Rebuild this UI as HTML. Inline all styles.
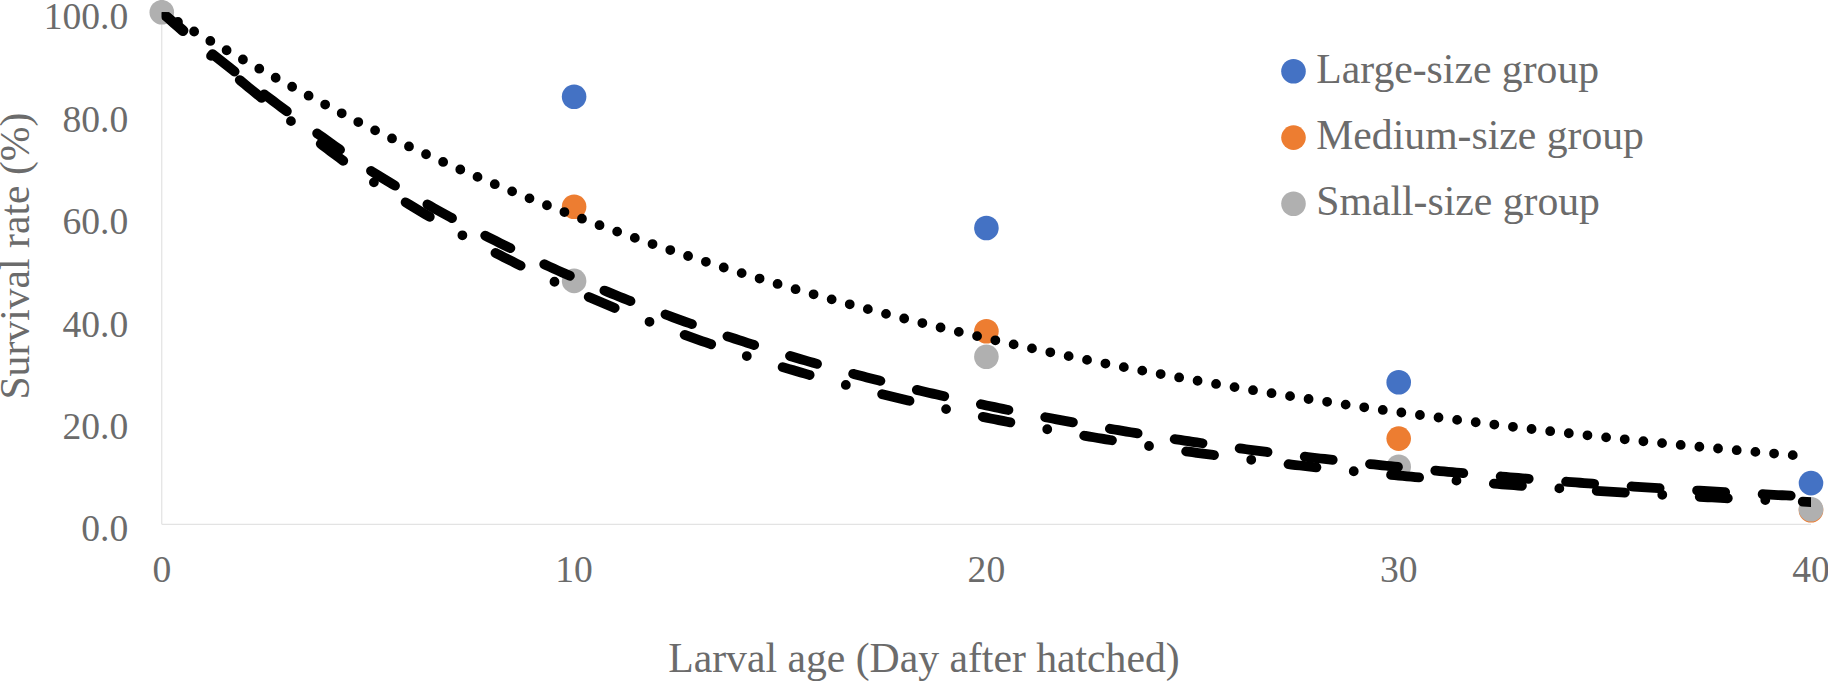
<!DOCTYPE html>
<html><head><meta charset="utf-8"><title>Survival rate chart</title>
<style>
html,body{margin:0;padding:0;background:#fff}
svg{display:block}
text{font-family:"Liberation Serif","Times New Roman",serif;fill:#6b6b6b}
.t1{font-size:41.7px}
.t2{font-size:37.6px}
</style></head><body>
<svg width="1828" height="681" viewBox="0 0 1828 681">
<rect width="1828" height="681" fill="#fff"/>
<defs><clipPath id="cp"><rect x="161.8" y="12.2" width="1649.2" height="600"/></clipPath></defs>

<path d="M161.8 12.5 V524.3 H1811.0" fill="none" stroke="#dcdcdc" stroke-width="1"/>
<text class="t2" x="128.3" y="541.2" text-anchor="end">0.0</text>
<text class="t2" x="128.3" y="438.8" text-anchor="end">20.0</text>
<text class="t2" x="128.3" y="336.5" text-anchor="end">40.0</text>
<text class="t2" x="128.3" y="234.1" text-anchor="end">60.0</text>
<text class="t2" x="128.3" y="131.8" text-anchor="end">80.0</text>
<text class="t2" x="128.3" y="29.4" text-anchor="end">100.0</text>
<text class="t2" x="161.8" y="581.6" text-anchor="middle">0</text>
<text class="t2" x="574.1" y="581.6" text-anchor="middle">10</text>
<text class="t2" x="986.4" y="581.6" text-anchor="middle">20</text>
<text class="t2" x="1398.7" y="581.6" text-anchor="middle">30</text>
<text class="t2" x="1811.0" y="581.6" text-anchor="middle">40</text>
<text class="t1" x="668.2" y="672">Larval age (Day after hatched)</text>
<text class="t1" transform="translate(29.1 399.6) rotate(-90)">Survival rate (%)</text>
<circle cx="574.1" cy="96.7" r="12.3" fill="#4472c4"/>
<circle cx="986.4" cy="228.0" r="12.3" fill="#4472c4"/>
<circle cx="1398.7" cy="382.3" r="12.3" fill="#4472c4"/>
<circle cx="1811.0" cy="483.1" r="12.3" fill="#4472c4"/>
<circle cx="574.1" cy="206.7" r="12.3" fill="#ed7d31"/>
<circle cx="986.4" cy="331.3" r="12.3" fill="#ed7d31"/>
<circle cx="1398.7" cy="438.6" r="12.3" fill="#ed7d31"/>
<circle cx="1811.0" cy="510.2" r="12.3" fill="#ed7d31"/>
<circle cx="161.8" cy="12.2" r="12.3" fill="#b0b0b0"/>
<circle cx="574.1" cy="280.9" r="12.3" fill="#b0b0b0"/>
<circle cx="986.4" cy="356.7" r="12.3" fill="#b0b0b0"/>
<circle cx="1398.7" cy="466.7" r="12.3" fill="#b0b0b0"/>
<circle cx="1811.0" cy="509.2" r="12.3" fill="#b0b0b0"/>
<g clip-path="url(#cp)" fill="none" stroke="#000" stroke-width="9.80" stroke-linecap="round" stroke-linejoin="round">
<path d="M161.80 12.50 L165.92 14.88 L170.05 17.32 L174.17 19.76 L178.29 22.20 L182.42 24.63 L186.54 27.06 L190.66 29.48 L194.78 31.89 L198.91 34.30 L203.03 36.69 L207.15 39.09 L211.28 41.47 L215.40 43.84 L219.52 46.21 L223.65 48.57 L227.77 50.92 L231.89 53.27 L236.01 55.61 L240.14 57.94 L244.26 60.26 L248.38 62.58 L252.51 64.89 L256.63 67.19 L260.75 69.49 L264.88 71.78 L269.00 74.07 L273.12 76.34 L277.24 78.61 L281.37 80.88 L285.49 83.13 L289.61 85.39 L293.74 87.63 L297.86 89.87 L301.98 92.10 L306.11 94.33 L310.23 96.55 L314.35 98.76 L318.47 100.97 L322.60 103.17 L326.72 105.37 L330.84 107.56 L334.97 109.74 L339.09 111.92 L343.21 114.10 L347.34 116.27 L351.46 118.45 L355.58 120.63 L359.70 122.86 L363.83 124.89 L367.95 126.90 L372.07 128.91 L376.20 130.91 L380.32 132.89 L384.44 134.87 L388.57 136.83 L392.69 138.79 L396.81 140.73 L400.93 142.67 L405.06 144.60 L409.18 146.51 L413.30 148.42 L417.43 150.32 L421.55 152.20 L425.67 154.08 L429.80 155.95 L433.92 157.81 L438.04 159.66 L442.16 161.50 L446.29 163.33 L450.41 165.15 L454.53 166.96 L458.66 168.77 L462.78 170.56 L466.90 172.35 L471.03 174.12 L475.15 175.89 L479.27 177.65 L483.39 179.40 L487.52 181.14 L491.64 182.87 L495.76 184.60 L499.89 186.31 L504.01 188.02 L508.13 189.71 L512.26 191.40 L516.38 193.08 L520.50 194.75 L524.62 196.42 L528.75 198.07 L532.87 199.72 L536.99 201.36 L541.12 202.99 L545.24 204.61 L549.36 206.22 L553.49 207.83 L557.61 209.43 L561.73 211.01 L565.85 212.60 L569.98 214.17 L574.10 215.73 L578.22 217.29 L582.35 218.84 L586.47 220.38 L590.59 221.92 L594.72 223.44 L598.84 224.96 L602.96 226.47 L607.08 227.98 L611.21 229.47 L615.33 230.96 L619.45 232.44 L623.58 233.91 L627.70 235.38 L631.82 236.84 L635.95 238.29 L640.07 239.73 L644.19 241.17 L648.31 242.60 L652.44 244.02 L656.56 245.43 L660.68 246.84 L664.81 248.24 L668.93 249.63 L673.05 251.02 L677.17 252.40 L681.30 253.77 L685.42 255.14 L689.54 256.50 L693.67 257.85 L697.79 259.19 L701.91 260.53 L706.04 261.86 L710.16 263.19 L714.28 264.50 L718.40 265.82 L722.53 267.12 L726.65 268.42 L730.77 269.71 L734.90 271.00 L739.02 272.27 L743.14 273.55 L747.27 274.81 L751.39 276.07 L755.51 277.32 L759.63 278.57 L763.76 279.81 L767.88 281.04 L772.00 282.27 L776.13 283.49 L780.25 284.71 L784.37 285.92 L788.50 287.12 L792.62 288.32 L796.74 289.51 L800.87 290.69 L804.99 291.87 L809.11 293.05 L813.23 294.21 L817.36 295.38 L821.48 296.53 L825.60 297.68 L829.73 298.82 L833.85 299.96 L837.97 301.09 L842.10 302.22 L846.22 303.34 L850.34 304.46 L854.46 305.57 L858.59 306.67 L862.71 307.77 L866.83 308.86 L870.96 309.95 L875.08 311.03 L879.20 312.11 L883.33 313.18 L887.45 314.24 L891.57 315.30 L895.69 316.36 L899.82 317.41 L903.94 318.45 L908.06 319.49 L912.19 320.53 L916.31 321.55 L920.43 322.58 L924.56 323.60 L928.68 324.61 L932.80 325.62 L936.92 326.62 L941.05 327.62 L945.17 328.61 L949.29 329.60 L953.42 330.58 L957.54 331.56 L961.66 332.53 L965.79 333.50 L969.91 334.46 L974.03 335.42 L978.15 336.37 L982.28 337.32 L986.40 338.27 L990.52 339.20 L994.65 340.14 L998.77 341.07 L1002.89 341.99 L1007.02 342.91 L1011.14 343.83 L1015.26 344.74 L1019.38 345.65 L1023.51 346.55 L1027.63 347.44 L1031.75 348.34 L1035.88 349.23 L1040.00 350.11 L1044.12 350.99 L1048.25 351.86 L1052.37 352.73 L1056.49 353.60 L1060.61 354.46 L1064.74 355.32 L1068.86 356.17 L1072.98 357.02 L1077.11 357.86 L1081.23 358.70 L1085.35 359.54 L1089.48 360.37 L1093.60 361.20 L1097.72 362.02 L1101.84 362.84 L1105.97 363.66 L1110.09 364.47 L1114.21 365.27 L1118.34 366.08 L1122.46 366.87 L1126.58 367.67 L1130.71 368.46 L1134.83 369.25 L1138.95 370.03 L1143.07 370.81 L1147.20 371.58 L1151.32 372.35 L1155.44 373.12 L1159.57 373.88 L1163.69 374.64 L1167.81 375.40 L1171.94 376.15 L1176.06 376.90 L1180.18 377.64 L1184.30 378.38 L1188.43 379.12 L1192.55 379.85 L1196.67 380.58 L1200.80 381.30 L1204.92 382.03 L1209.04 382.74 L1213.16 383.46 L1217.29 384.17 L1221.41 384.88 L1225.53 385.58 L1229.66 386.28 L1233.78 386.98 L1237.90 387.67 L1242.03 388.36 L1246.15 389.05 L1250.27 389.73 L1254.39 390.41 L1258.52 391.08 L1262.64 391.76 L1266.76 392.43 L1270.89 393.09 L1275.01 393.75 L1279.13 394.41 L1283.26 395.07 L1287.38 395.72 L1291.50 396.37 L1295.62 397.01 L1299.75 397.66 L1303.87 398.30 L1307.99 398.93 L1312.12 399.56 L1316.24 400.19 L1320.36 400.82 L1324.49 401.44 L1328.61 402.06 L1332.73 402.68 L1336.86 403.29 L1340.98 403.91 L1345.10 404.51 L1349.22 405.12 L1353.35 405.72 L1357.47 406.32 L1361.59 406.91 L1365.72 407.51 L1369.84 408.10 L1373.96 408.68 L1378.09 409.27 L1382.21 409.85 L1386.33 410.42 L1390.45 411.00 L1394.58 411.57 L1398.70 412.14 L1402.82 412.71 L1406.95 413.27 L1411.07 413.83 L1415.19 414.39 L1419.32 414.94 L1423.44 415.49 L1427.56 416.04 L1431.68 416.59 L1435.81 417.13 L1439.93 417.67 L1444.05 418.21 L1448.18 418.75 L1452.30 419.28 L1456.42 419.81 L1460.55 420.34 L1464.67 420.86 L1468.79 421.38 L1472.91 421.90 L1477.04 422.42 L1481.16 422.93 L1485.28 423.45 L1489.41 423.96 L1493.53 424.46 L1497.65 424.97 L1501.78 425.47 L1505.90 425.97 L1510.02 426.46 L1514.14 426.96 L1518.27 427.45 L1522.39 427.94 L1526.51 428.42 L1530.64 428.91 L1534.76 429.39 L1538.88 429.87 L1543.01 430.34 L1547.13 430.82 L1551.25 431.29 L1555.37 431.76 L1559.50 432.23 L1563.62 432.69 L1567.74 433.15 L1571.87 433.61 L1575.99 434.07 L1580.11 434.53 L1584.24 434.98 L1588.36 435.43 L1592.48 435.88 L1596.60 436.32 L1600.73 436.77 L1604.85 437.21 L1608.97 437.65 L1613.10 438.09 L1617.22 438.52 L1621.34 438.96 L1625.47 439.39 L1629.59 439.82 L1633.71 440.24 L1637.83 440.67 L1641.96 441.09 L1646.08 441.51 L1650.20 441.93 L1654.33 442.34 L1658.45 442.76 L1662.57 443.17 L1666.70 443.58 L1670.82 443.98 L1674.94 444.39 L1679.06 444.79 L1683.19 445.19 L1687.31 445.59 L1691.43 445.99 L1695.56 446.39 L1699.68 446.78 L1703.80 447.17 L1707.93 447.56 L1712.05 447.95 L1716.17 448.33 L1720.29 448.72 L1724.42 449.10 L1728.54 449.48 L1732.66 449.85 L1736.79 450.23 L1740.91 450.60 L1745.03 450.98 L1749.16 451.35 L1753.28 451.71 L1757.40 452.08 L1761.52 452.44 L1765.65 452.81 L1769.77 453.17 L1773.89 453.53 L1778.02 453.88 L1782.14 454.24 L1786.26 454.59 L1790.39 454.95 L1794.51 455.30 L1798.63 455.64 L1802.75 455.99 L1806.88 456.33 L1811.00 456.68" stroke-dasharray="0 18.75"/>
<path d="M161.80 12.50 L165.92 15.83 L170.05 19.25 L174.17 22.69 L178.29 26.11 L182.42 29.53 L186.54 32.94 L190.66 36.33 L194.78 39.71 L198.91 43.07 L203.03 46.41 L207.15 49.74 L211.28 53.06 L215.40 56.36 L219.52 59.64 L223.65 62.91 L227.77 66.16 L231.89 69.40 L236.01 72.63 L240.14 75.84 L244.26 79.03 L248.38 82.21 L252.51 85.38 L256.63 88.54 L260.75 91.68 L264.88 94.81 L269.00 97.93 L273.12 101.03 L277.24 104.12 L281.37 107.20 L285.49 110.27 L289.61 113.32 L293.74 116.36 L297.86 119.39 L301.98 122.41 L306.11 125.42 L310.23 128.41 L314.35 131.39 L318.47 134.37 L322.60 137.33 L326.72 140.28 L330.84 143.22 L334.97 146.15 L339.09 149.07 L343.21 151.99 L347.34 154.90 L351.46 157.82 L355.58 160.75 L359.70 163.78 L363.83 166.41 L367.95 169.01 L372.07 171.59 L376.20 174.16 L380.32 176.71 L384.44 179.23 L388.57 181.74 L392.69 184.24 L396.81 186.71 L400.93 189.16 L405.06 191.60 L409.18 194.02 L413.30 196.42 L417.43 198.81 L421.55 201.18 L425.67 203.53 L429.80 205.86 L433.92 208.18 L438.04 210.48 L442.16 212.76 L446.29 215.02 L450.41 217.27 L454.53 219.51 L458.66 221.72 L462.78 223.92 L466.90 226.11 L471.03 228.28 L475.15 230.43 L479.27 232.57 L483.39 234.69 L487.52 236.80 L491.64 238.89 L495.76 240.96 L499.89 243.02 L504.01 245.07 L508.13 247.10 L512.26 249.12 L516.38 251.12 L520.50 253.11 L524.62 255.08 L528.75 257.04 L532.87 258.98 L536.99 260.91 L541.12 262.83 L545.24 264.73 L549.36 266.62 L553.49 268.49 L557.61 270.35 L561.73 272.20 L565.85 274.03 L569.98 275.85 L574.10 277.66 L578.22 279.45 L582.35 281.23 L586.47 283.00 L590.59 284.76 L594.72 286.50 L598.84 288.23 L602.96 289.95 L607.08 291.65 L611.21 293.34 L615.33 295.02 L619.45 296.69 L623.58 298.35 L627.70 299.99 L631.82 301.62 L635.95 303.24 L640.07 304.85 L644.19 306.44 L648.31 308.03 L652.44 309.60 L656.56 311.16 L660.68 312.71 L664.81 314.25 L668.93 315.78 L673.05 317.30 L677.17 318.80 L681.30 320.30 L685.42 321.78 L689.54 323.25 L693.67 324.72 L697.79 326.17 L701.91 327.61 L706.04 329.04 L710.16 330.46 L714.28 331.87 L718.40 333.27 L722.53 334.66 L726.65 336.04 L730.77 337.41 L734.90 338.77 L739.02 340.12 L743.14 341.46 L747.27 342.79 L751.39 344.11 L755.51 345.42 L759.63 346.72 L763.76 348.01 L767.88 349.29 L772.00 350.56 L776.13 351.83 L780.25 353.08 L784.37 354.33 L788.50 355.56 L792.62 356.79 L796.74 358.01 L800.87 359.22 L804.99 360.42 L809.11 361.61 L813.23 362.80 L817.36 363.97 L821.48 365.14 L825.60 366.29 L829.73 367.44 L833.85 368.58 L837.97 369.72 L842.10 370.84 L846.22 371.96 L850.34 373.07 L854.46 374.17 L858.59 375.26 L862.71 376.34 L866.83 377.42 L870.96 378.49 L875.08 379.55 L879.20 380.60 L883.33 381.64 L887.45 382.68 L891.57 383.71 L895.69 384.73 L899.82 385.75 L903.94 386.76 L908.06 387.76 L912.19 388.75 L916.31 389.74 L920.43 390.72 L924.56 391.69 L928.68 392.65 L932.80 393.61 L936.92 394.56 L941.05 395.50 L945.17 396.44 L949.29 397.37 L953.42 398.29 L957.54 399.21 L961.66 400.12 L965.79 401.02 L969.91 401.92 L974.03 402.81 L978.15 403.69 L982.28 404.57 L986.40 405.44 L990.52 406.31 L994.65 407.16 L998.77 408.02 L1002.89 408.86 L1007.02 409.70 L1011.14 410.54 L1015.26 411.36 L1019.38 412.18 L1023.51 413.00 L1027.63 413.81 L1031.75 414.61 L1035.88 415.41 L1040.00 416.20 L1044.12 416.99 L1048.25 417.77 L1052.37 418.54 L1056.49 419.31 L1060.61 420.08 L1064.74 420.83 L1068.86 421.59 L1072.98 422.33 L1077.11 423.08 L1081.23 423.81 L1085.35 424.54 L1089.48 425.27 L1093.60 425.99 L1097.72 426.70 L1101.84 427.41 L1105.97 428.12 L1110.09 428.82 L1114.21 429.51 L1118.34 430.20 L1122.46 430.89 L1126.58 431.57 L1130.71 432.24 L1134.83 432.91 L1138.95 433.57 L1143.07 434.23 L1147.20 434.89 L1151.32 435.54 L1155.44 436.19 L1159.57 436.83 L1163.69 437.46 L1167.81 438.09 L1171.94 438.72 L1176.06 439.34 L1180.18 439.96 L1184.30 440.58 L1188.43 441.18 L1192.55 441.79 L1196.67 442.39 L1200.80 442.98 L1204.92 443.58 L1209.04 444.16 L1213.16 444.75 L1217.29 445.32 L1221.41 445.90 L1225.53 446.47 L1229.66 447.04 L1233.78 447.60 L1237.90 448.16 L1242.03 448.71 L1246.15 449.26 L1250.27 449.80 L1254.39 450.35 L1258.52 450.88 L1262.64 451.42 L1266.76 451.95 L1270.89 452.47 L1275.01 453.00 L1279.13 453.52 L1283.26 454.03 L1287.38 454.54 L1291.50 455.05 L1295.62 455.55 L1299.75 456.05 L1303.87 456.55 L1307.99 457.04 L1312.12 457.53 L1316.24 458.02 L1320.36 458.50 L1324.49 458.98 L1328.61 459.45 L1332.73 459.92 L1336.86 460.39 L1340.98 460.86 L1345.10 461.32 L1349.22 461.78 L1353.35 462.23 L1357.47 462.68 L1361.59 463.13 L1365.72 463.58 L1369.84 464.02 L1373.96 464.46 L1378.09 464.89 L1382.21 465.32 L1386.33 465.75 L1390.45 466.18 L1394.58 466.60 L1398.70 467.02 L1402.82 467.44 L1406.95 467.85 L1411.07 468.26 L1415.19 468.67 L1419.32 469.07 L1423.44 469.48 L1427.56 469.87 L1431.68 470.27 L1435.81 470.66 L1439.93 471.05 L1444.05 471.44 L1448.18 471.83 L1452.30 472.21 L1456.42 472.59 L1460.55 472.96 L1464.67 473.34 L1468.79 473.71 L1472.91 474.07 L1477.04 474.44 L1481.16 474.80 L1485.28 475.16 L1489.41 475.52 L1493.53 475.87 L1497.65 476.23 L1501.78 476.58 L1505.90 476.92 L1510.02 477.27 L1514.14 477.61 L1518.27 477.95 L1522.39 478.29 L1526.51 478.62 L1530.64 478.95 L1534.76 479.28 L1538.88 479.61 L1543.01 479.94 L1547.13 480.26 L1551.25 480.58 L1555.37 480.90 L1559.50 481.21 L1563.62 481.53 L1567.74 481.84 L1571.87 482.15 L1575.99 482.45 L1580.11 482.76 L1584.24 483.06 L1588.36 483.36 L1592.48 483.66 L1596.60 483.95 L1600.73 484.25 L1604.85 484.54 L1608.97 484.83 L1613.10 485.11 L1617.22 485.40 L1621.34 485.68 L1625.47 485.96 L1629.59 486.24 L1633.71 486.52 L1637.83 486.79 L1641.96 487.07 L1646.08 487.34 L1650.20 487.61 L1654.33 487.87 L1658.45 488.14 L1662.57 488.40 L1666.70 488.66 L1670.82 488.92 L1674.94 489.18 L1679.06 489.43 L1683.19 489.69 L1687.31 489.94 L1691.43 490.19 L1695.56 490.44 L1699.68 490.68 L1703.80 490.93 L1707.93 491.17 L1712.05 491.41 L1716.17 491.65 L1720.29 491.89 L1724.42 492.12 L1728.54 492.36 L1732.66 492.59 L1736.79 492.82 L1740.91 493.05 L1745.03 493.28 L1749.16 493.50 L1753.28 493.73 L1757.40 493.95 L1761.52 494.17 L1765.65 494.39 L1769.77 494.61 L1773.89 494.82 L1778.02 495.04 L1782.14 495.25 L1786.26 495.46 L1790.39 495.67 L1794.51 495.88 L1798.63 496.09 L1802.75 496.29 L1806.88 496.49 L1811.00 496.70" stroke-dasharray="28.13 37.51"/>
<path d="M161.80 12.50 L165.92 16.10 L170.05 19.80 L174.17 23.50 L178.29 27.19 L182.42 30.86 L186.54 34.52 L190.66 38.17 L194.78 41.79 L198.91 45.39 L203.03 48.98 L207.15 52.54 L211.28 56.09 L215.40 59.61 L219.52 63.12 L223.65 66.61 L227.77 70.08 L231.89 73.53 L236.01 76.97 L240.14 80.38 L244.26 83.78 L248.38 87.17 L252.51 90.53 L256.63 93.88 L260.75 97.21 L264.88 100.53 L269.00 103.83 L273.12 107.11 L277.24 110.38 L281.37 113.64 L285.49 116.87 L289.61 120.10 L293.74 123.30 L297.86 126.50 L301.98 129.67 L306.11 132.84 L310.23 135.99 L314.35 139.12 L318.47 142.24 L322.60 145.35 L326.72 148.44 L330.84 151.53 L334.97 154.60 L339.09 157.65 L343.21 160.70 L347.34 163.75 L351.46 166.79 L355.58 169.85 L359.70 173.01 L363.83 175.75 L367.95 178.47 L372.07 181.18 L376.20 183.85 L380.32 186.51 L384.44 189.15 L388.57 191.77 L392.69 194.37 L396.81 196.94 L400.93 199.50 L405.06 202.04 L409.18 204.55 L413.30 207.05 L417.43 209.53 L421.55 211.98 L425.67 214.42 L429.80 216.84 L433.92 219.24 L438.04 221.63 L442.16 223.99 L446.29 226.34 L450.41 228.66 L454.53 230.97 L458.66 233.26 L462.78 235.53 L466.90 237.79 L471.03 240.03 L475.15 242.25 L479.27 244.45 L483.39 246.64 L487.52 248.80 L491.64 250.96 L495.76 253.09 L499.89 255.21 L504.01 257.31 L508.13 259.39 L512.26 261.46 L516.38 263.52 L520.50 265.55 L524.62 267.57 L528.75 269.58 L532.87 271.57 L536.99 273.54 L541.12 275.50 L545.24 277.44 L549.36 279.37 L553.49 281.28 L557.61 283.18 L561.73 285.06 L565.85 286.93 L569.98 288.79 L574.10 290.62 L578.22 292.45 L582.35 294.26 L586.47 296.06 L590.59 297.84 L594.72 299.61 L598.84 301.36 L602.96 303.10 L607.08 304.83 L611.21 306.54 L615.33 308.24 L619.45 309.93 L623.58 311.61 L627.70 313.27 L631.82 314.92 L635.95 316.55 L640.07 318.17 L644.19 319.78 L648.31 321.38 L652.44 322.96 L656.56 324.54 L660.68 326.10 L664.81 327.64 L668.93 329.18 L673.05 330.70 L677.17 332.22 L681.30 333.72 L685.42 335.20 L689.54 336.68 L693.67 338.15 L697.79 339.60 L701.91 341.04 L706.04 342.47 L710.16 343.89 L714.28 345.30 L718.40 346.70 L722.53 348.09 L726.65 349.46 L730.77 350.83 L734.90 352.18 L739.02 353.53 L743.14 354.86 L747.27 356.18 L751.39 357.50 L755.51 358.80 L759.63 360.09 L763.76 361.37 L767.88 362.65 L772.00 363.91 L776.13 365.16 L780.25 366.40 L784.37 367.64 L788.50 368.86 L792.62 370.07 L796.74 371.28 L800.87 372.47 L804.99 373.66 L809.11 374.84 L813.23 376.00 L817.36 377.16 L821.48 378.31 L825.60 379.45 L829.73 380.58 L833.85 381.70 L837.97 382.82 L842.10 383.92 L846.22 385.02 L850.34 386.11 L854.46 387.19 L858.59 388.26 L862.71 389.32 L866.83 390.37 L870.96 391.42 L875.08 392.46 L879.20 393.49 L883.33 394.51 L887.45 395.52 L891.57 396.53 L895.69 397.52 L899.82 398.52 L903.94 399.50 L908.06 400.47 L912.19 401.44 L916.31 402.40 L920.43 403.35 L924.56 404.29 L928.68 405.23 L932.80 406.16 L936.92 407.08 L941.05 408.00 L945.17 408.91 L949.29 409.81 L953.42 410.70 L957.54 411.59 L961.66 412.47 L965.79 413.34 L969.91 414.21 L974.03 415.07 L978.15 415.92 L982.28 416.77 L986.40 417.61 L990.52 418.44 L994.65 419.27 L998.77 420.09 L1002.89 420.90 L1007.02 421.71 L1011.14 422.51 L1015.26 423.31 L1019.38 424.10 L1023.51 424.88 L1027.63 425.65 L1031.75 426.42 L1035.88 427.19 L1040.00 427.95 L1044.12 428.70 L1048.25 429.45 L1052.37 430.19 L1056.49 430.92 L1060.61 431.65 L1064.74 432.37 L1068.86 433.09 L1072.98 433.81 L1077.11 434.51 L1081.23 435.21 L1085.35 435.91 L1089.48 436.60 L1093.60 437.28 L1097.72 437.96 L1101.84 438.64 L1105.97 439.31 L1110.09 439.97 L1114.21 440.63 L1118.34 441.28 L1122.46 441.93 L1126.58 442.57 L1130.71 443.21 L1134.83 443.85 L1138.95 444.47 L1143.07 445.10 L1147.20 445.72 L1151.32 446.33 L1155.44 446.94 L1159.57 447.54 L1163.69 448.14 L1167.81 448.74 L1171.94 449.33 L1176.06 449.91 L1180.18 450.49 L1184.30 451.07 L1188.43 451.64 L1192.55 452.21 L1196.67 452.77 L1200.80 453.33 L1204.92 453.88 L1209.04 454.43 L1213.16 454.98 L1217.29 455.52 L1221.41 456.06 L1225.53 456.59 L1229.66 457.12 L1233.78 457.64 L1237.90 458.17 L1242.03 458.68 L1246.15 459.19 L1250.27 459.70 L1254.39 460.21 L1258.52 460.71 L1262.64 461.20 L1266.76 461.70 L1270.89 462.19 L1275.01 462.67 L1279.13 463.15 L1283.26 463.63 L1287.38 464.10 L1291.50 464.57 L1295.62 465.04 L1299.75 465.50 L1303.87 465.96 L1307.99 466.42 L1312.12 466.87 L1316.24 467.32 L1320.36 467.76 L1324.49 468.20 L1328.61 468.64 L1332.73 469.08 L1336.86 469.51 L1340.98 469.94 L1345.10 470.36 L1349.22 470.78 L1353.35 471.20 L1357.47 471.61 L1361.59 472.03 L1365.72 472.43 L1369.84 472.84 L1373.96 473.24 L1378.09 473.64 L1382.21 474.04 L1386.33 474.43 L1390.45 474.82 L1394.58 475.20 L1398.70 475.59 L1402.82 475.97 L1406.95 476.35 L1411.07 476.72 L1415.19 477.09 L1419.32 477.46 L1423.44 477.83 L1427.56 478.19 L1431.68 478.55 L1435.81 478.91 L1439.93 479.26 L1444.05 479.61 L1448.18 479.96 L1452.30 480.31 L1456.42 480.65 L1460.55 480.99 L1464.67 481.33 L1468.79 481.67 L1472.91 482.00 L1477.04 482.33 L1481.16 482.66 L1485.28 482.98 L1489.41 483.30 L1493.53 483.62 L1497.65 483.94 L1501.78 484.26 L1505.90 484.57 L1510.02 484.88 L1514.14 485.19 L1518.27 485.49 L1522.39 485.80 L1526.51 486.10 L1530.64 486.40 L1534.76 486.69 L1538.88 486.99 L1543.01 487.28 L1547.13 487.57 L1551.25 487.85 L1555.37 488.14 L1559.50 488.42 L1563.62 488.70 L1567.74 488.98 L1571.87 489.25 L1575.99 489.53 L1580.11 489.80 L1584.24 490.07 L1588.36 490.34 L1592.48 490.60 L1596.60 490.86 L1600.73 491.13 L1604.85 491.38 L1608.97 491.64 L1613.10 491.90 L1617.22 492.15 L1621.34 492.40 L1625.47 492.65 L1629.59 492.90 L1633.71 493.14 L1637.83 493.39 L1641.96 493.63 L1646.08 493.87 L1650.20 494.10 L1654.33 494.34 L1658.45 494.57 L1662.57 494.81 L1666.70 495.04 L1670.82 495.27 L1674.94 495.49 L1679.06 495.72 L1683.19 495.94 L1687.31 496.16 L1691.43 496.38 L1695.56 496.60 L1699.68 496.82 L1703.80 497.03 L1707.93 497.24 L1712.05 497.45 L1716.17 497.66 L1720.29 497.87 L1724.42 498.08 L1728.54 498.28 L1732.66 498.49 L1736.79 498.69 L1740.91 498.89 L1745.03 499.09 L1749.16 499.28 L1753.28 499.48 L1757.40 499.67 L1761.52 499.87 L1765.65 500.06 L1769.77 500.25 L1773.89 500.43 L1778.02 500.62 L1782.14 500.80 L1786.26 500.99 L1790.39 501.17 L1794.51 501.35 L1798.63 501.53 L1802.75 501.71 L1806.88 501.88 L1811.00 502.06" stroke-dasharray="28.13 37.51 0 37.51"/>
</g>
<circle cx="1293.5" cy="71.3" r="12.3" fill="#4472c4"/>
<text class="t1" x="1316.3" y="82.9">Large-size group</text>
<circle cx="1293.5" cy="137.6" r="12.3" fill="#ed7d31"/>
<text class="t1" x="1316.3" y="149.2">Medium-size group</text>
<circle cx="1293.5" cy="203.8" r="12.3" fill="#b0b0b0"/>
<text class="t1" x="1316.3" y="215.4">Small-size group</text>
</svg></body></html>
